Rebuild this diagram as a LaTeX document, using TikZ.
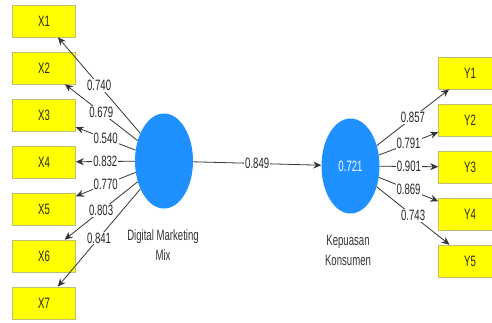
\documentclass[tikz,border=0pt]{standalone}
\usepackage{fontspec}
\setmainfont{Liberation Sans}
\newfontfamily\plsfont[FakeStretch=0.64]{Liberation Sans}
\usetikzlibrary{arrows.meta,shapes.geometric}
\definecolor{lvblue}{RGB}{30,144,255}
\definecolor{mvyellow}{RGB}{255,255,0}
\definecolor{mvborder}{RGB}{190,190,120}
\begin{document}
\begin{tikzpicture}[x=1pt,y=-1pt,
  every node/.style={font=\plsfont\fontsize{15}{20}\selectfont},
  mv/.style={draw=mvborder, line width=0.6pt, fill=mvyellow, minimum width=63pt, minimum height=32pt, inner sep=0pt, text=black!85},
  lv/.style={ellipse, fill=lvblue, minimum width=58pt, minimum height=95pt, inner sep=0pt, text=white},
  link/.style={draw=black!80, line width=0.8pt, -{Stealth[length=8pt,width=7pt]}},
  lbl/.style={fill=white, inner sep=1pt, text=black!85, pos=0.5},
  lvcap/.style={align=center, text=black!80}]
\useasboundingbox (0,0) rectangle (492,322);
\clip (0,0) rectangle (492,322);

% indicator boxes, left
\node[mv] (X1) at (44,21) {X1};
\node[mv] (X2) at (44,68) {X2};
\node[mv] (X3) at (44,115) {X3};
\node[mv] (X4) at (44,162) {X4};
\node[mv] (X5) at (44,209) {X5};
\node[mv] (X6) at (44,256) {X6};
\node[mv] (X7) at (44,303) {X7};

% indicator boxes, right
\node[mv] (Y1) at (470,73) {Y1};
\node[mv] (Y2) at (470,120) {Y2};
\node[mv] (Y3) at (470,167) {Y3};
\node[mv] (Y4) at (470,214) {Y4};
\node[mv] (Y5) at (470,261) {Y5};

% latent variables
\node[lv] (DM) at (164,161) {};
\node[lv] (KK) at (350.5,166) {0.721};
\node[lvcap] (DMcap) at (163,245) {Digital Marketing\\Mix};
\node[lvcap] (KKcap) at (348,250) {Kepuasan\\Konsumen};

% outer loadings, left
\draw[link] (DM) -- node[lbl]{0.740} (X1);
\draw[link] (DM) -- node[lbl]{0.679} (X2);
\draw[link] (DM) -- node[lbl]{0.540} (X3);
\draw[link] (DM) -- node[lbl]{0.832} (X4);
\draw[link] (DM) -- node[lbl]{0.770} (X5);
\draw[link] (DM) -- node[lbl]{0.803} (X6);
\draw[link] (DM) -- node[lbl]{0.841} (X7);

% path coefficient
\draw[link] (DM) -- node[lbl]{0.849} (KK);

% outer loadings, right
\draw[link] (KK) -- node[lbl]{0.857} (Y1);
\draw[link] (KK) -- node[lbl]{0.791} (Y2);
\draw[link] (KK) -- node[lbl]{0.901} (Y3);
\draw[link] (KK) -- node[lbl]{0.869} (Y4);
\draw[link] (KK) -- node[lbl]{0.743} (Y5);
\end{tikzpicture}
\end{document}
